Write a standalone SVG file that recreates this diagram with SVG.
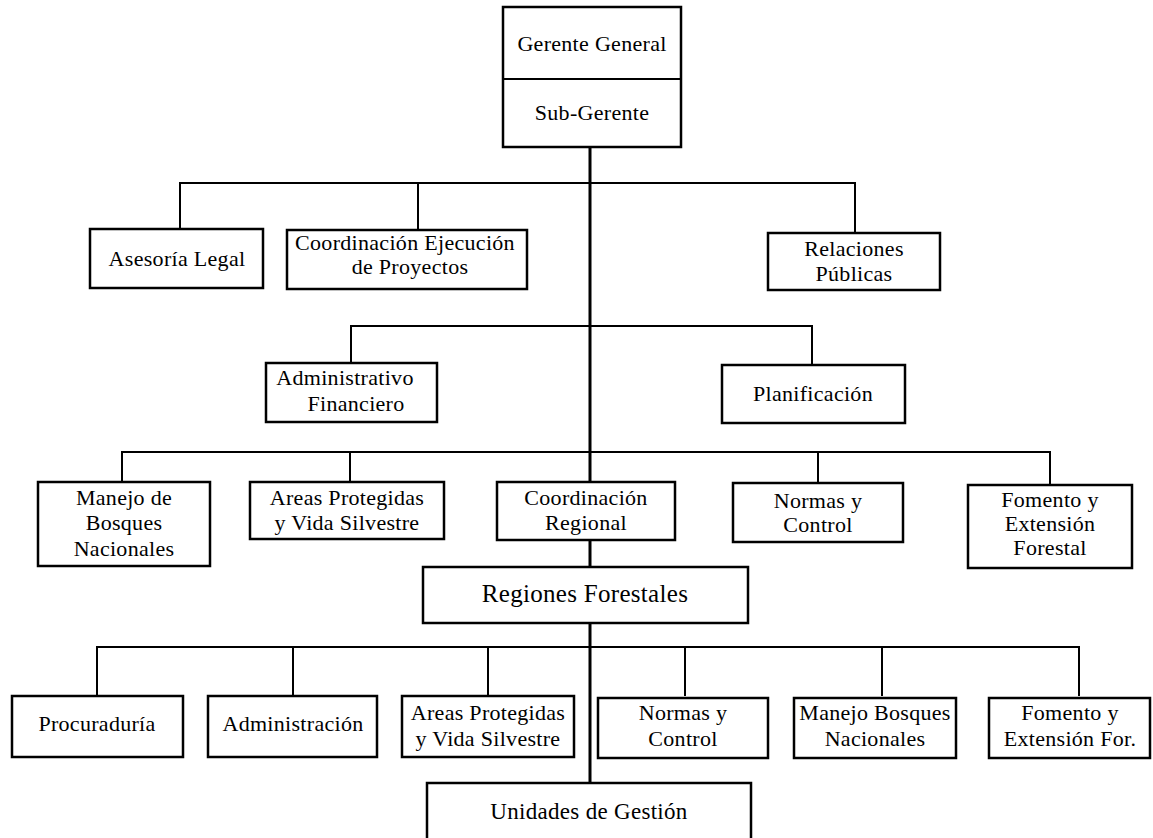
<svg xmlns="http://www.w3.org/2000/svg" width="1153" height="838" viewBox="0 0 1153 838">
<style>
.box{fill:#fff;stroke:#000;stroke-width:2.5}
.ln{fill:none;stroke:#000;stroke-width:2}
.main{fill:none;stroke:#000;stroke-width:3}
.t text{font-family:"Liberation Serif","Times New Roman",serif;font-size:22px;fill:#000;text-anchor:middle;letter-spacing:0.3px}
.t .big{font-size:25px}
.t .mid{font-size:23px}
</style>
<rect width="1153" height="838" fill="#fff"/>
<g id="connectors">
<line class="main" x1="590" y1="147" x2="590" y2="783"/>
<path class="ln" d="M180 229V183H855V233M418 183V230"/>
<path class="ln" d="M351 363V326H812V365"/>
<path class="ln" d="M122 482V452H1050V485M350 452V482M818 452V483"/>
<path class="ln" d="M97 696V647H1079V696M293 647V696M488 647V696M685 647V696M882 647V696"/>
</g>
<g class="t">
<g id="gerente">
<rect class="box" x="503" y="7" width="178" height="140"/>
<line class="ln" x1="503" y1="79" x2="681" y2="79"/>
<text x="592" y="51">Gerente General</text>
<text x="592" y="120">Sub-Gerente</text>
</g>
<g id="asesoria"><rect class="box" x="90" y="229" width="173" height="59"/><text x="177" y="266">Asesoría Legal</text></g>
<g id="coord-ejec"><rect class="box" x="287" y="230" width="240" height="59"/><text x="405" y="250">Coordinación Ejecución</text><text x="410" y="274">de Proyectos</text></g>
<g id="relaciones"><rect class="box" x="768" y="233" width="172" height="57"/><text x="854" y="256">Relaciones</text><text x="854" y="281">Públicas</text></g>
<g id="admin-fin"><rect class="box" x="266" y="363" width="171" height="59"/><text x="345" y="385">Administrativo</text><text x="356" y="411">Financiero</text></g>
<g id="planificacion"><rect class="box" x="722" y="365" width="183" height="58"/><text x="813" y="401">Planificación</text></g>
<g id="manejo"><rect class="box" x="38" y="482" width="172" height="84"/><text x="124" y="505">Manejo de</text><text x="124" y="530">Bosques</text><text x="124" y="556">Nacionales</text></g>
<g id="areas"><rect class="box" x="250" y="482" width="194" height="57"/><text x="347" y="505">Areas Protegidas</text><text x="347" y="530">y Vida Silvestre</text></g>
<g id="coord-reg"><rect class="box" x="497" y="482" width="178" height="58"/><text x="586" y="505">Coordinación</text><text x="586" y="530">Regional</text></g>
<g id="normas"><rect class="box" x="733" y="483" width="170" height="59"/><text x="818" y="508">Normas y</text><text x="818" y="532">Control</text></g>
<g id="fomento"><rect class="box" x="968" y="485" width="164" height="83"/><text x="1050" y="507">Fomento y</text><text x="1050" y="531">Extensión</text><text x="1050" y="555">Forestal</text></g>
<g id="regiones"><rect class="box" x="423" y="567" width="325" height="56"/><text class="big" x="585" y="602">Regiones Forestales</text></g>
<g id="procuraduria"><rect class="box" x="12" y="696" width="171" height="61"/><text x="97" y="731">Procuraduría</text></g>
<g id="administracion"><rect class="box" x="208" y="696" width="169" height="61"/><text x="293" y="731">Administración</text></g>
<g id="areas2"><rect class="box" x="402" y="696" width="172" height="61"/><text x="488" y="720">Areas Protegidas</text><text x="488" y="746">y Vida Silvestre</text></g>
<g id="normas2"><rect class="box" x="598" y="698" width="170" height="60"/><text x="683" y="720">Normas y</text><text x="683" y="746">Control</text></g>
<g id="manejo2"><rect class="box" x="794" y="698" width="162" height="60"/><text x="875" y="720">Manejo Bosques</text><text x="875" y="746">Nacionales</text></g>
<g id="fomento2"><rect class="box" x="989" y="698" width="161" height="60"/><text x="1070" y="720">Fomento y</text><text x="1070" y="746">Extensión For.</text></g>
<g id="unidades"><rect class="box" x="427" y="783" width="324" height="70"/><text class="mid" x="589" y="819">Unidades de Gestión</text></g>
</g>
</svg>
